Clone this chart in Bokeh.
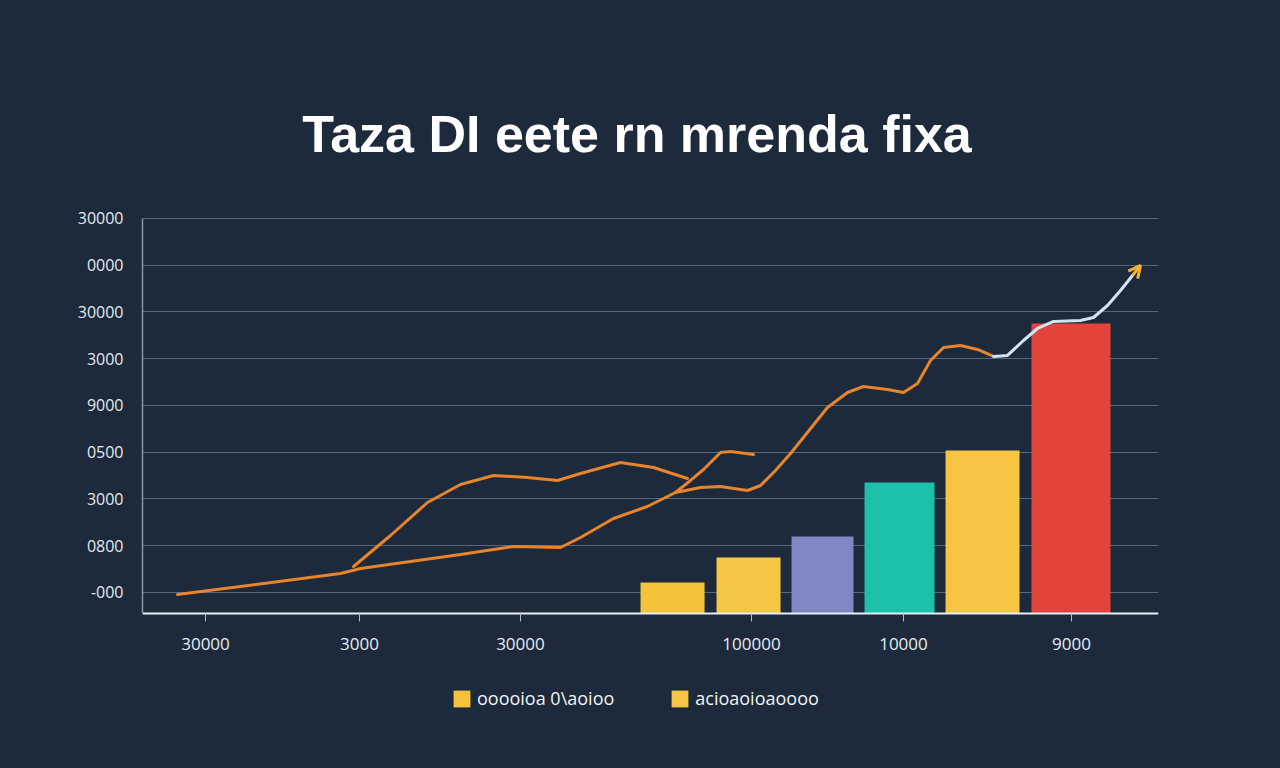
from bokeh.plotting import figure
from bokeh.models import Range1d, FixedTicker, Label, Legend, LegendItem, Arrow, OpenHead, ColumnDataSource
from bokeh.embed import file_html
from bokeh.resources import INLINE

title_text = "Taza DI eete rn mrenda fixa"

y_ticks = [0, 1000, 2000, 3000, 4000, 5000, 6000, 7000, 8000]
y_tick_labels = ["-000", "0800", "3000", "0500", "9000", "3000", "30000", "0000", "30000"]
y_axis_base = -450

x_ticks = [6.20, 21.36, 37.20, 59.94, 74.90, 91.44]
x_tick_labels = ["30000", "3000", "30000", "100000", "10000", "9000"]

bar_x = [52.17, 59.65, 66.93, 74.51, 82.68, 91.39]
bar_width = [6.30, 6.30, 6.10, 6.89, 7.28, 7.78]
bar_values = [214, 749, 1198, 2353, 3037, 5754]
bar_colors = ["#F6C13B", "#F6C544", "#7E87C1", "#1DC1AA", "#F7C443", "#E2443B"]

# main rising series
line1_x = [3.44, 19.49, 21.46, 31.30, 36.52, 41.14, 43.11, 46.36, 49.70, 52.46, 54.92, 56.89,
           59.55, 60.83, 62.30, 63.78, 67.42, 69.39, 70.96, 73.33, 74.90, 76.28, 77.56, 78.84,
           80.51, 82.19, 83.76]
line1_y = [-43, 406, 513, 813, 984, 963, 1176, 1583, 1840, 2139, 2246, 2267,
           2182, 2289, 2610, 2973, 3957, 4278, 4406, 4342, 4278, 4471, 4962, 5241,
           5283, 5198, 5048]
# its light tail
tail_x = [83.76, 85.14, 86.71, 88.09, 89.67, 92.32, 93.60, 94.98, 96.26, 97.44]
tail_y = [5048, 5070, 5390, 5647, 5797, 5818, 5882, 6139, 6460, 6781]
arrow_end = (98.23, 6995)

# hump series
line2_x = [20.77, 24.41, 28.05, 31.30, 34.55, 37.89, 40.85, 43.11, 47.05, 50.30, 53.64]
line2_y = [556, 1219, 1925, 2310, 2503, 2460, 2396, 2545, 2781, 2674, 2438]

# short crossing series
line3_x = [52.46, 53.94, 55.22, 56.89, 57.87, 60.14]
line3_y = [2139, 2396, 2631, 2995, 3016, 2952]

legend_labels = ["ooooioa 0\\aoioo", "acioaoioaoooo"]

BG = "#1c2a3b"
ORANGE = "#E8842C"

p = figure(width=1280, height=768, output_backend="svg", toolbar_location=None,
           x_range=Range1d(0, 100), y_range=Range1d(-3765, 12663),
           min_border_left=142, min_border_right=122, min_border_top=0, min_border_bottom=0)
p.background_fill_color = BG
p.border_fill_color = BG
p.outline_line_color = None
p.styles = {"background-color": BG}

p.xgrid.grid_line_color = None
p.ygrid.ticker = FixedTicker(ticks=y_ticks)
p.ygrid.grid_line_color = "#56667b"
p.ygrid.grid_line_width = 1

p.yaxis.ticker = FixedTicker(ticks=y_ticks)
p.yaxis.bounds = (y_axis_base, 8000)
p.yaxis.major_label_overrides = {t: l for t, l in zip(y_ticks, y_tick_labels)}
p.yaxis.major_tick_out = 0
p.yaxis.major_tick_in = 0
p.yaxis.minor_tick_out = 0
p.yaxis.minor_tick_in = 0
p.yaxis.axis_line_color = "#8796a8"
p.yaxis.axis_line_width = 1.5
p.yaxis.major_label_standoff = 19
p.yaxis.major_label_text_color = "#e3e8ef"
p.yaxis.major_label_text_font = "Open Sans"
p.yaxis.major_label_text_font_size = "16px"

p.xaxis.fixed_location = y_axis_base
p.xaxis.ticker = FixedTicker(ticks=x_ticks)
p.xaxis.major_label_overrides = {t: l for t, l in zip(x_ticks, x_tick_labels)}
p.xaxis.major_tick_out = 8
p.xaxis.major_tick_in = 0
p.xaxis.minor_tick_out = 0
p.xaxis.minor_tick_in = 0
p.xaxis.major_tick_line_color = "#aebccb"
p.xaxis.axis_line_color = "#e4eef6"
p.xaxis.axis_line_width = 2
p.xaxis.major_label_standoff = 16
p.xaxis.major_label_text_color = "#e6ebf1"
p.xaxis.major_label_text_font = "Open Sans"
p.xaxis.major_label_text_font_size = "17px"

bars = ColumnDataSource(dict(x=bar_x, w=bar_width, top=bar_values, color=bar_colors))
bar_r = p.vbar(x="x", width="w", top="top", bottom=y_axis_base, source=bars,
               fill_color="color", line_color=None)

p.line(line2_x, line2_y, line_color=ORANGE, line_width=3, line_join="round", line_cap="round")
p.line(line3_x, line3_y, line_color=ORANGE, line_width=3, line_join="round", line_cap="round")
p.line(line1_x, line1_y, line_color=ORANGE, line_width=3, line_join="round", line_cap="round")
p.line(tail_x, tail_y, line_color="#cfe6f1", line_width=3, line_join="round", line_cap="round")
p.add_layout(Arrow(end=OpenHead(size=12, line_color="#F4B23A", line_width=3),
                   x_start=tail_x[-1], y_start=tail_y[-1], x_end=arrow_end[0], y_end=arrow_end[1],
                   line_color="#F4B23A", line_width=3))

legend = Legend(items=[LegendItem(label=legend_labels[0], renderers=[bar_r], index=0),
                       LegendItem(label=legend_labels[1], renderers=[bar_r], index=4)],
                orientation="horizontal", location=(309, 58),
                background_fill_alpha=0, border_line_color=None, padding=0, margin=0,
                spacing=55, glyph_width=21, glyph_height=21, label_standoff=5,
                label_text_color="#f2f2f2", label_text_font="Open Sans", label_text_font_size="18px")
p.add_layout(legend)

p.add_layout(Label(x=48.67, y=9797, text=title_text, text_align="center", text_baseline="alphabetic",
                   text_font="Liberation Sans", text_font_style="bold",
                   text_font_size="52px", text_color="#ffffff"))

open("out.html", "w").write(file_html(p, INLINE))
